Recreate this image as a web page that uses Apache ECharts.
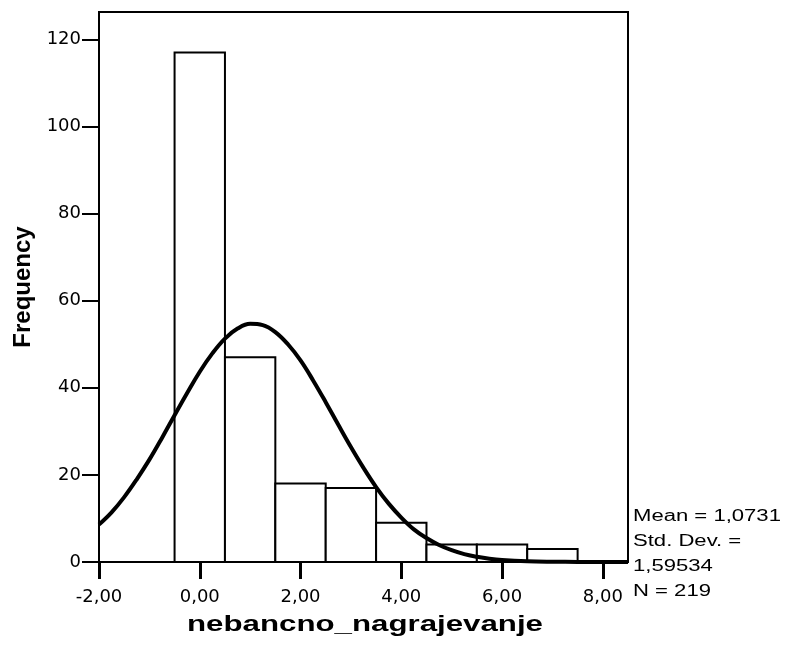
<!DOCTYPE html>
<html>
<head>
<meta charset="utf-8">
<script src="https://cdn.jsdelivr.net/npm/echarts@6/dist/echarts.min.js"></script>
<style>html,body{margin:0;padding:0;background:#fff;}#c{width:785px;height:646px;}</style>
</head>
<body>
<div id="c"></div>
<script>
// Histogram bins (bin centre, width 1) and frequencies
var binCenters = [0, 1, 2, 3, 4, 5, 6, 7];
var frequencies = [117, 47, 18, 17, 9, 4, 4, 3];
// Normal curve points
var curveX = [-2, -1.75, -1.5, -1.25, -1, -0.75, -0.5, -0.25, 0, 0.25, 0.5, 0.75, 1, 1.25, 1.5, 1.75, 2, 2.25, 2.5, 2.75, 3, 3.25, 3.5, 3.75, 4, 4.25, 4.5, 4.75, 5, 5.25, 5.5, 5.75, 6, 6.5, 7, 7.5, 8, 8.5];
var curveY = [8.6, 11.4, 14.9, 19.0, 23.5, 28.5, 33.7, 38.8, 43.7, 47.9, 51.3, 53.6, 54.7, 54.4, 52.8, 50.0, 46.3, 41.7, 36.7, 31.5, 26.4, 21.6, 17.2, 13.4, 10.2, 7.5, 5.5, 3.9, 2.7, 1.8, 1.2, 0.75, 0.46, 0.17, 0.06, 0.02, 0.01, 0];
var xTicks = [-2, 0, 2, 4, 6, 8];
var yTicks = [0, 20, 40, 60, 80, 100, 120];
var statsLines = ['Mean = 1,0731', 'Std. Dev. =', '1,59534', 'N = 219'];
var xTitle = 'nebancno_nagrajevanje';
var yTitle = 'Frequency';

var FONT = '"Liberation Sans", Arial, sans-serif';
var TICKFONT = '"DejaVu Sans", sans-serif';
var chart = echarts.init(document.getElementById('c'), null, {renderer: 'canvas'});

var barData = binCenters.map(function (c, i) { return [c - 0.5, c + 0.5, frequencies[i]]; });
var curveData = curveX.map(function (x, i) { return [x, curveY[i]]; });

var graphics = statsLines.map(function (t, i) {
  return {type: 'text', x: 633, y: 509 + i * 25, scaleX: 1.38,
    style: {text: t, font: '16px ' + FONT, fill: '#000'}};
});
graphics.push({type: 'text', x: 365, y: 625, scaleX: 1.42,
  style: {text: xTitle, font: 'bold 22px ' + FONT, fill: '#000', align: 'center', verticalAlign: 'middle'}});

chart.setOption({
  animation: false,
  backgroundColor: '#fff',
  grid: {left: 99, top: 12, right: 157, bottom: 84, show: true, borderColor: '#000', borderWidth: 2, backgroundColor: 'transparent'},
  xAxis: {
    type: 'value', min: -2, max: 8.5,
    axisLine: {show: true, onZero: false, lineStyle: {color: '#000', width: 2}},
    axisTick: {show: true, length: 17, lineStyle: {color: '#000', width: 3}, customValues: xTicks},
    axisLabel: {fontFamily: TICKFONT, fontSize: 18, color: '#000', margin: 26, customValues: xTicks,
      formatter: function (v) { return v.toFixed(2).replace('.', ','); }},
    splitLine: {show: false}
  },
  yAxis: {
    type: 'value', min: 0, max: 126.3,
    name: yTitle, nameLocation: 'middle', nameGap: 62, nameRotate: 90,
    nameTextStyle: {fontFamily: FONT, fontWeight: 'bold', fontSize: 24, color: '#000'},
    axisLine: {show: true, onZero: false, lineStyle: {color: '#000', width: 2}},
    axisTick: {show: true, length: 17, lineStyle: {color: '#000', width: 2}, customValues: yTicks},
    axisLabel: {fontFamily: TICKFONT, fontSize: 18, color: '#000', margin: 18, customValues: yTicks},
    splitLine: {show: false}
  },
  series: [
    {
      type: 'custom',
      data: barData,
      renderItem: function (params, api) {
        var p0 = api.coord([api.value(0), api.value(2)]);
        var p1 = api.coord([api.value(1), 0]);
        return {
          type: 'rect',
          shape: {x: p0[0], y: p0[1], width: p1[0] - p0[0], height: p1[1] - p0[1]},
          style: {fill: '#fff', stroke: '#000', lineWidth: 2}
        };
      },
      encode: {x: [0, 1], y: 2},
      z: 2
    },
    {
      type: 'line',
      data: curveData,
      smooth: 0.4,
      symbol: 'none',
      clip: true,
      lineStyle: {color: '#000', width: 4},
      z: 3
    }
  ],
  graphic: graphics
});
</script>
</body>
</html>
